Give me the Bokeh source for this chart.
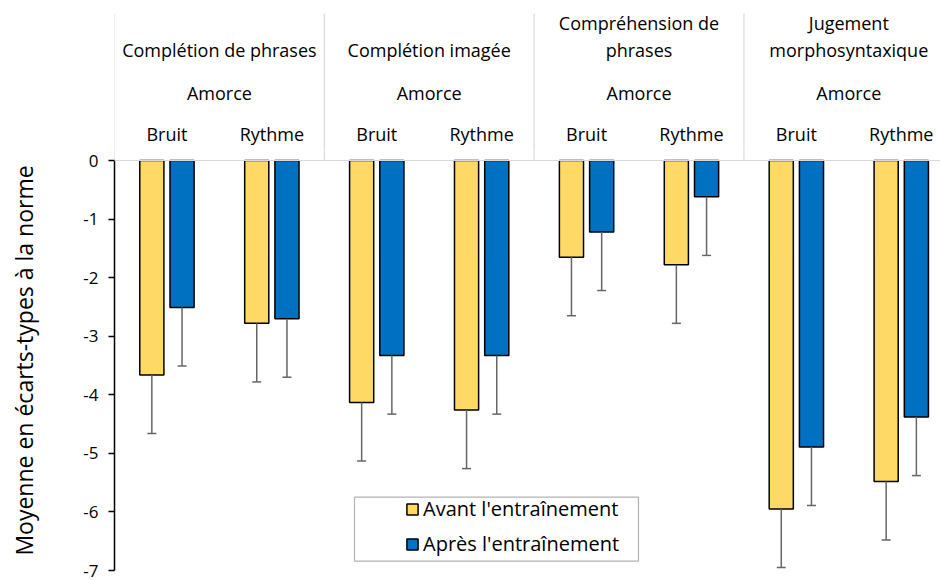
from bokeh.plotting import figure
from bokeh.layouts import column
from bokeh.models import (ColumnDataSource, Range1d, FixedTicker, Span, Legend,
                          LegendItem, BoxAnnotation)
from bokeh.core.properties import value
from bokeh.embed import file_html
from bokeh.resources import INLINE

# ---- data ----
categories = ["Complétion de phrases", "Complétion imagée",
              "Compréhension de\nphrases", "Jugement\nmorphosyntaxique"]
amorce_title = "Amorce"
amorces = ["Bruit", "Rythme"]
series_names = ["Avant l'entraînement", "Après l'entraînement"]
y_title = "Moyenne en écarts-types à la norme"
# order: cat1-Bruit, cat1-Rythme, cat2-Bruit, ...
avant = [-3.66, -2.78, -4.13, -4.26, -1.65, -1.78, -5.95, -5.48]
apres = [-2.51, -2.70, -3.33, -3.33, -1.22, -0.62, -4.89, -4.38]
err_avant = [1.0, 1.0, 1.0, 1.0, 1.0, 1.0, 1.0, 1.0]
err_apres = [1.0, 1.0, 1.0, 1.0, 1.0, 1.0, 1.0, 1.0]
y_ticks = [0, -1, -2, -3, -4, -5, -6, -7]

YELLOW = "#FFD966"
BLUE = "#0070C0"
GRID = "#D9D9D9"
FONT = "Open Sans"

n_cat = len(categories)
n_sub = len(amorces)
centers = [g * n_sub + s + 0.5 for g in range(n_cat) for s in range(n_sub)]
off = 0.144
bw = 0.23

src_a = ColumnDataSource(dict(x=[c - off for c in centers], top=avant,
                              lo=[v - e for v, e in zip(avant, err_avant)]))
src_b = ColumnDataSource(dict(x=[c + off for c in centers], top=apres,
                              lo=[v - e for v, e in zip(apres, err_apres)]))
sep_src = ColumnDataSource(dict(x=[g * n_sub for g in range(n_cat)]))

xr = Range1d(0, 7.874)

# ---------------- header figure (category labels) ----------------
h = figure(width=940, height=150, output_backend="svg", toolbar_location=None,
           x_range=xr, y_range=Range1d(0.171, 2.732),
           min_border_left=114, min_border_right=0, min_border_top=0,
           min_border_bottom=0)
h.outline_line_color = None
h.xaxis.visible = False
h.yaxis.visible = False
h.grid.grid_line_color = None
h.segment(x0="x", y0=0, x1="x", y1=2.51, source=sep_src,
          line_color=GRID, line_width=1.2)

cat_src = ColumnDataSource(dict(x=[g * n_sub + n_sub / 2 for g in range(n_cat)],
                                t=categories))
h.text(x="x", y=1.687, text="t", source=cat_src, text_align="center",
       text_baseline="bottom", text_font=value(FONT), text_font_size="18px",
       text_color="black", text_line_height=1.1)
am_src = ColumnDataSource(dict(x=[g * n_sub + n_sub / 2 for g in range(n_cat)],
                               t=[amorce_title] * n_cat))
h.text(x="x", y=1.161, text="t", source=am_src, text_align="center",
       text_baseline="middle", text_font=value(FONT), text_font_size="18px",
       text_color="black")
sub_src = ColumnDataSource(dict(x=centers, t=amorces * n_cat))
h.text(x="x", y=0.461, text="t", source=sub_src, text_align="center",
       text_baseline="middle", text_font=value(FONT), text_font_size="18px",
       text_color="black")

# ---------------- main figure ----------------
p = figure(width=940, height=430, output_backend="svg", toolbar_location=None,
           x_range=xr, y_range=Range1d(-7, 0.171),
           min_border_left=114, min_border_right=0, min_border_top=0,
           min_border_bottom=10)
p.outline_line_color = None
p.xaxis.visible = False
p.xgrid.grid_line_color = None
p.ygrid.grid_line_color = None

yax = p.yaxis[0]
yax.ticker = FixedTicker(ticks=y_ticks)
yax.major_label_overrides = {t: str(t) for t in y_ticks}
yax.bounds = (-7, 0)
yax.axis_line_color = "black"
yax.axis_line_width = 1.5
yax.major_tick_line_color = "black"
yax.major_tick_line_width = 1.5
yax.major_tick_out = 6
yax.major_tick_in = 0
yax.minor_tick_line_color = None
yax.major_label_text_font = FONT
yax.major_label_text_font_size = "17px"
yax.major_label_text_color = "black"
yax.major_label_standoff = 10
yax.axis_label = y_title
yax.axis_label_text_font = FONT
yax.axis_label_text_font_size = "23px"
yax.axis_label_text_font_style = "normal"
yax.axis_label_text_color = "black"
yax.axis_label_standoff = 40

p.add_layout(Span(location=0, dimension="width", line_color=GRID, line_width=1))
p.segment(x0="x", y0=0, x1="x", y1=2.51, source=sep_src,
          line_color=GRID, line_width=1.2)

ra = p.vbar(x="x", top="top", bottom=0, width=bw, source=src_a,
            fill_color=YELLOW, line_color="black", line_width=1.5)
rb = p.vbar(x="x", top="top", bottom=0, width=bw, source=src_b,
            fill_color=BLUE, line_color="black", line_width=1.5)

for s in (src_a, src_b):
    p.segment(x0="x", y0="top", x1="x", y1="lo", source=s,
              line_color="#666666", line_width=1.5)
    p.scatter(x="x", y="lo", source=s, marker="dash", size=9,
              line_color="#666666", line_width=1.5)

p.add_layout(BoxAnnotation(left=2.288, right=4.995, top=-5.748, bottom=-6.84,
                           fill_color="white", fill_alpha=1.0,
                           line_color="black", line_width=1.2))
legend = Legend(items=[LegendItem(label=series_names[0], renderers=[ra]),
                       LegendItem(label=series_names[1], renderers=[rb])],
                location=(291, 13), orientation="vertical",
                glyph_width=14, glyph_height=14, label_height=24, spacing=8,
                label_standoff=4, padding=0, margin=0,
                label_text_font=FONT, label_text_font_size="20px",
                label_text_color="black",
                border_line_color=None, background_fill_alpha=0)
p.add_layout(legend)

layout = column(h, p, spacing=0)
open("out.html", "w").write(file_html(layout, INLINE))
